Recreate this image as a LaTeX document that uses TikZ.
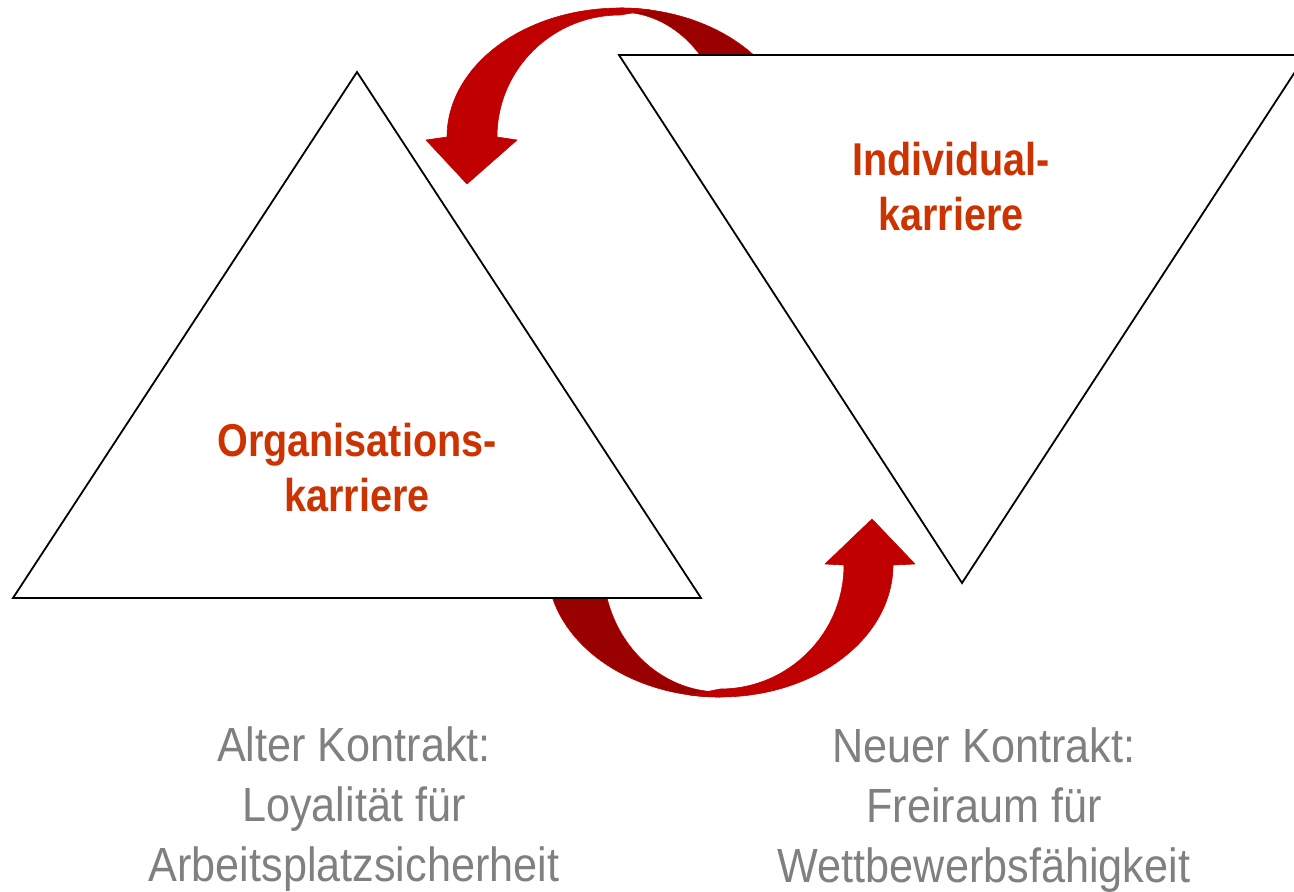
\documentclass[tikz,border=0pt]{standalone}
\usepackage{fontspec}
\newfontfamily\narrowsans[FakeStretch=0.86]{Liberation Sans}
\newfontfamily\contractsans[FakeStretch=0.9]{Liberation Sans}
\definecolor{arrowred}{RGB}{192,0,0}
\definecolor{arrowshade}{RGB}{153,0,0}
\definecolor{headred}{RGB}{204,51,0}
\definecolor{contractgrey}{RGB}{128,128,128}
\tikzset{
  arrowfront/.style={fill=arrowred, draw=arrowred, line width=0.6pt, line join=round},
  arrowback/.style={fill=arrowshade, draw=arrowred, line width=0.6pt, line join=round},
  tri/.style={draw=black, fill=white, line width=1.8pt, line join=miter},
  heading/.style={text=headred, align=center, inner sep=0pt,
    font=\narrowsans\fontsize{46}{55}\selectfont\bfseries},
  contract/.style={text=contractgrey, align=center, inner sep=0pt,
    font=\contractsans\fontsize{48}{60}\selectfont}
}
\begin{document}
\begin{tikzpicture}[x=1pt, y=1pt, yscale=-1]
\useasboundingbox (0,0) rectangle (1294,892);
\clip (0,0) rectangle (1294,892);

% lower curved arrow: shaded back half, then the front half with its head
\path[arrowback] (720,697) arc[start angle=90, end angle=185, x radius=173, y radius=132]
  -- ({720+117*cos(185)},{565+127*sin(185)})
  arc[start angle=185, end angle=90, x radius=117, y radius=127] -- cycle;
\path[arrowfront] (893,565) arc[start angle=0, end angle=100, x radius=173, y radius=132]
  -- (720,689) arc[start angle=90, end angle=0, x radius=124, y radius=124]
  -- (825,564) -- (872,519) -- (915,564) -- cycle;

% upper curved arrow
\path[arrowback] (620,8) arc[start angle=270, end angle=330, x radius=173, y radius=129]
  -- ({620+106*cos(330)},{137+125*sin(330)})
  arc[start angle=330, end angle=270, x radius=106, y radius=125] -- cycle;
\path[arrowfront] (447,137) arc[start angle=180, end angle=280, x radius=173, y radius=129]
  -- (620,15) arc[start angle=270, end angle=180, x radius=123, y radius=122]
  -- (517,140) -- (467,184) -- (426,140) -- cycle;

% the two triangles
\draw[tri] (13,598) -- (357,72) -- (701,598) -- cycle;
\draw[tri] (619,55) -- (1306,55) -- (962,583) -- cycle;

% labels
\node[heading] (org) at (357,468) {Organisations-\\karriere};
\node[heading] (ind) at (951,187) {Individual-\\karriere};
\node[contract] (alt) at (354,809) {Alter Kontrakt:\\Loyalität für\\Arbeitsplatzsicherheit};
\node[contract] (neu) at (984,810) {Neuer Kontrakt:\\Freiraum für\\Wettbewerbsfähigkeit};
\end{tikzpicture}
\end{document}
